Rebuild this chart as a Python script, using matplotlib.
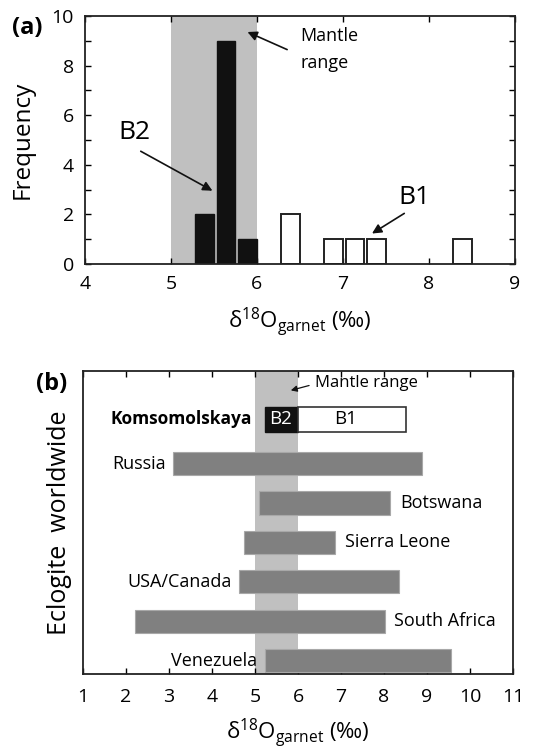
import matplotlib
matplotlib.use("Agg")
import matplotlib.pyplot as plt
import numpy as np

plt.rcParams['font.family'] = ['Open Sans', 'DejaVu Sans']
plt.rcParams['mathtext.fontset'] = 'custom'
plt.rcParams['mathtext.rm'] = 'Open Sans'
plt.rcParams['mathtext.it'] = 'Open Sans:italic'

# ---- Panel (a) data: histogram of d18O garnet ----
b2_centers = [5.39, 5.64, 5.89]
b2_counts = [2, 9, 1]
b1_centers = [6.39, 6.89, 7.14, 7.39, 8.39]
b1_counts = [2, 1, 1, 1, 1]
mantle_range = (5.0, 6.0)

# ---- Panel (b) data: ranges worldwide ----
komso_b2 = (5.23, 6.0)
komso_b1 = (6.0, 8.51)
countries = ["Russia", "Botswana", "Sierra Leone", "USA/Canada", "South Africa", "Venezuela"]
c_min = [3.10, 5.10, 4.75, 4.62, 2.20, 5.23]
c_max = [8.89, 8.15, 6.87, 8.35, 8.02, 9.55]
label_side = ["left", "right", "right", "left", "right", "left"]

W, H = 541, 751
fig = plt.figure(figsize=(W / 100, H / 100), dpi=100)

xlabel = r'δ$^{18}$O$_{\mathrm{garnet}}$ (‰)'

# ---------------- Panel (a) ----------------
ax1 = fig.add_axes([85 / W, 1 - 264 / H, 430 / W, 248 / H])
ax1.axvspan(*mantle_range, color='#c0c0c0', zorder=0, lw=0)
ax1.bar(b2_centers, b2_counts, width=0.215, color='#111111', edgecolor='#111111', lw=1.0, zorder=2)
ax1.bar(b1_centers, b1_counts, width=0.215, color='white', edgecolor='#222222', lw=1.4, zorder=2)
ax1.set_xlim(4, 9)
ax1.set_ylim(0, 10)
ax1.set_xticks([4, 5, 6, 7, 8, 9])
ax1.set_yticks([0, 2, 4, 6, 8, 10])
ax1.set_yticks([1, 3, 5, 7, 9], minor=True)
ax1.tick_params(direction='in', top=True, right=True, labelsize=14, length=4, width=1, pad=8)
ax1.tick_params(which='minor', direction='in', right=True, length=4, width=1)
for s in ax1.spines.values():
    s.set_linewidth(1.3)
    s.set_color('#222222')
ax1.set_ylabel('Frequency', fontsize=17.5, labelpad=12)
ax1.set_xlabel(xlabel, fontsize=16, labelpad=9)
fig.text(12 / W, 1 - 28 / H, '(a)', fontsize=17, fontweight='bold', va='center')

arrow = dict(arrowstyle='-|>', color='#111111', lw=1.2, mutation_scale=14)
ax1.annotate('', xy=(5.51, 2.9), xytext=(4.62, 4.6), arrowprops=arrow)
ax1.text(4.58, 5.3, 'B2', fontsize=19, ha='center', va='center')
ax1.annotate('', xy=(5.86, 9.4), xytext=(6.38, 8.6), arrowprops=arrow)
ax1.text(6.5, 9.2, 'Mantle', fontsize=13, ha='left', va='center')
ax1.text(6.5, 8.1, 'range', fontsize=13, ha='left', va='center')
ax1.annotate('', xy=(7.31, 1.17), xytext=(7.74, 2.1), arrowprops=arrow)
ax1.text(7.83, 2.7, 'B1', fontsize=19, ha='center', va='center')

# ---------------- Panel (b) ----------------
ax2 = fig.add_axes([83 / W, 1 - 674 / H, 430 / W, 303 / H])
ax2.axvspan(*mantle_range, color='#c0c0c0', zorder=0, lw=0)
ypos = np.arange(len(countries))[::-1]
h = 0.59
ax2.barh(ypos, np.array(c_max) - np.array(c_min), left=c_min, height=h,
         color='#808080', edgecolor='#a8a8a8', lw=0.8, zorder=2)
yk = 6.12
ax2.barh([yk], [komso_b2[1] - komso_b2[0]], left=[komso_b2[0]], height=0.62,
         color='#111111', edgecolor='#111111', lw=1.0, zorder=3)
ax2.barh([yk], [komso_b1[1] - komso_b1[0]], left=[komso_b1[0]], height=0.62,
         color='white', edgecolor='#333333', lw=1.2, zorder=3)
ax2.text(5.6, yk, 'B2', color='white', fontsize=13.5, ha='center', va='center', zorder=4)
ax2.text(7.1, yk, 'B1', color='black', fontsize=13.5, ha='center', va='center', zorder=4)
ax2.text(4.92, yk, 'Komsomolskaya', fontsize=12.5, fontweight='bold', ha='right', va='center')
for name, lo, hi, side, y in zip(countries, c_min, c_max, label_side, ypos):
    if side == 'left':
        ax2.text(lo - 0.17, y, name, fontsize=13, ha='right', va='center', zorder=4)
    else:
        ax2.text(hi + 0.22, y, name, fontsize=13, ha='left', va='center', zorder=4)
ax2.annotate('', xy=(5.77, 6.84), xytext=(6.32, 7.0),
             arrowprops=dict(arrowstyle='-|>', color='#111111', lw=0.9, mutation_scale=9))
ax2.text(6.4, 7.05, 'Mantle range', fontsize=12, ha='left', va='center')
ax2.set_xlim(1, 11)
ax2.set_ylim(-0.34, 7.35)
ax2.set_xticks(range(1, 12))
ax2.set_yticks([])
ax2.tick_params(direction='in', top=True, labelsize=14, length=4, width=1, pad=10)
for s in ax2.spines.values():
    s.set_linewidth(1.3)
    s.set_color('#222222')
ax2.set_ylabel('Eclogite  worldwide', fontsize=18, labelpad=8)
ax2.set_xlabel(xlabel, fontsize=16, labelpad=8)
fig.text(36 / W, 1 - 384 / H, '(b)', fontsize=17, fontweight='bold', va='center')

fig.savefig('out.png', dpi=100)
